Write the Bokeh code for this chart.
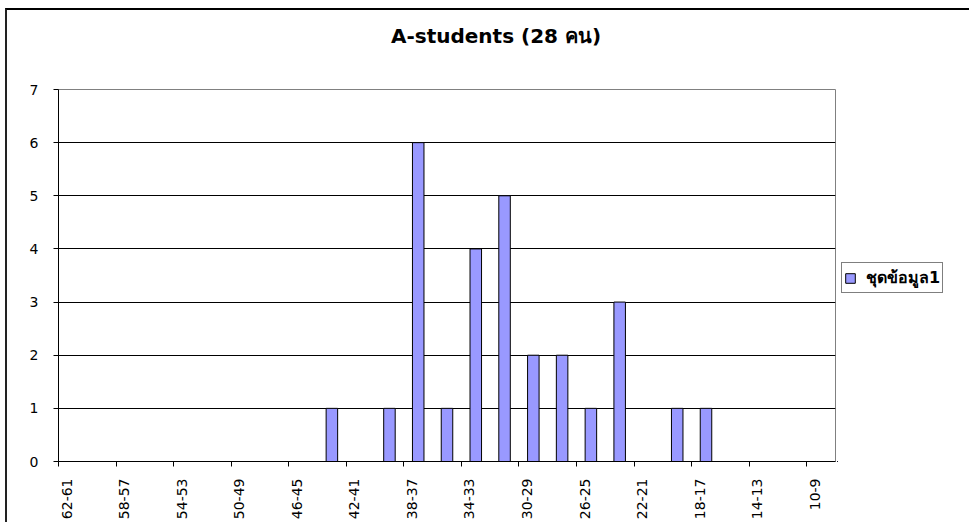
from bokeh.plotting import figure
from bokeh.models import FixedTicker, Range1d, Legend, LegendItem, ColumnDataSource, Div
from bokeh.layouts import row, column
from bokeh.embed import file_html
from bokeh.resources import INLINE
import math

# ---- data ----
categories = ["62-61", "60-59", "58-57", "56-55", "54-53", "52-51", "50-49", "48-47",
              "46-45", "44-43", "42-41", "40-39", "38-37", "36-35", "34-33", "32-31",
              "30-29", "28-27", "26-25", "24-23", "22-21", "20-19", "18-17", "16-15",
              "14-13", "12-11", "10-9"]
counts = [0, 0, 0, 0, 0, 0, 0, 0,
          0, 1, 0, 1, 6, 1, 4, 5,
          2, 2, 1, 3, 0, 1, 1, 0,
          0, 0, 0]
y_ticks = [0, 1, 2, 3, 4, 5, 6, 7]
series_name = "ชุดข้อมูล1"
title_text = "A-students (28 คน)"

FONT = "DejaVu Sans"
BAR_FILL = "#9999FF"
n = len(categories)
centers = [i + 0.5 for i in range(n)]

# ---- title ----
title_div = Div(text=title_text, width=962, height=53, margin=0,
                styles={"font-family": FONT, "font-weight": "bold", "font-size": "20px",
                        "line-height": "53px", "text-indent": "384px", "color": "black",
                        "white-space": "nowrap"})

H = 459
p = figure(width=830, height=H, output_backend="svg", toolbar_location=None,
           x_range=Range1d(0, n), y_range=Range1d(0, 7),
           min_border_left=51, min_border_right=2, min_border_top=26, min_border_bottom=61)
p.title.text = ""
p.background_fill_color = "white"
p.border_fill_color = "white"
p.outline_line_color = "#808080"
p.outline_line_width = 1

src = ColumnDataSource(dict(x=centers, top=counts))
r = p.vbar(x="x", top="top", bottom=0, width=0.4, source=src,
           fill_color=BAR_FILL, line_color="black", line_width=1)

# x axis: labels every second category, tick marks at category boundaries
label_pos = [i + 0.28 for i in range(0, n, 2)]
boundary_ticks = [i for i in range(0, n, 2)]
p.xaxis.ticker = FixedTicker(ticks=label_pos, minor_ticks=boundary_ticks)
p.xaxis.major_label_overrides = {pos: categories[i] for pos, i in zip(label_pos, range(0, n, 2))}
p.xaxis.major_label_orientation = math.pi / 2
p.xaxis.major_tick_out = 0
p.xaxis.major_tick_in = 0
p.xaxis.minor_tick_out = 5
p.xaxis.minor_tick_in = 0
p.xaxis.minor_tick_line_color = "black"
p.xaxis.major_label_standoff = 12
p.xaxis.major_label_text_font = FONT
p.xaxis.major_label_text_font_size = "14px"
p.xaxis.major_label_text_color = "black"
p.xaxis.axis_line_color = "black"

p.yaxis.ticker = FixedTicker(ticks=y_ticks)
p.yaxis.major_tick_out = 5
p.yaxis.major_tick_in = 0
p.yaxis.minor_tick_line_color = None
p.yaxis.major_tick_line_color = "black"
p.yaxis.major_label_standoff = 15
p.yaxis.major_label_text_font = FONT
p.yaxis.major_label_text_font_size = "14px"
p.yaxis.major_label_text_color = "black"
p.yaxis.axis_line_color = "black"

p.xgrid.grid_line_color = None
p.ygrid.ticker = FixedTicker(ticks=y_ticks[1:-1])
p.ygrid.grid_line_color = "black"
p.ygrid.grid_line_width = 1

# legend panel: separate canvas to the right of the plot area; its copy of the
# series lies entirely outside its view ranges, so only the legend shows
p2 = figure(width=132, height=H, output_backend="svg", toolbar_location=None,
            x_range=Range1d(100, 101), y_range=Range1d(100, 101),
            x_axis_type=None, y_axis_type=None,
            min_border_left=0, min_border_right=0, min_border_top=0, min_border_bottom=0)
p2.title.text = ""
p2.outline_line_color = None
p2.xgrid.grid_line_color = None
p2.ygrid.grid_line_color = None
p2.background_fill_color = "white"
p2.border_fill_color = "white"
swatch = p2.vbar(x="x", top="top", bottom=0, width=0.4, source=src,
                 fill_color=BAR_FILL, line_color="black", line_width=1)

legend = Legend(items=[LegendItem(label=series_name, renderers=[swatch], index=0)],
                location=(4, 168), orientation="vertical",
                border_line_color="black", border_line_width=1,
                background_fill_color="white", background_fill_alpha=1,
                padding=2, margin=0, spacing=0,
                glyph_width=12, glyph_height=12, label_height=12, label_standoff=10,
                label_text_font=FONT, label_text_font_style="bold",
                label_text_font_size="16px", label_text_color="black")
p2.add_layout(legend)

layout = column(title_div, row(p, p2))
layout.styles = {"border-left": "2px solid #222222", "border-top": "2px solid #000000",
                 "margin-left": "5px", "margin-top": "8px"}

open("out.html", "w").write(file_html(layout, INLINE))
